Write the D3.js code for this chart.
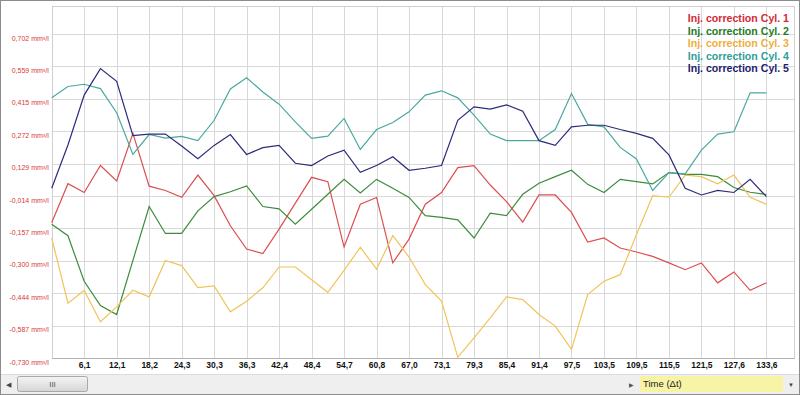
<!DOCTYPE html>
<html>
<head>
<meta charset="utf-8">
<script src="https://cdn.jsdelivr.net/npm/d3@7"></script>
<style>
  body { margin: 0; background: #fff; }
  svg { display: block; }
</style>
</head>
<body>
<svg width="800" height="395"></svg>
<script>
// sample index 0..44, one label every second sample
const xLabels = ["6,1", "12,1", "18,2", "24,3", "30,3", "36,3", "42,4", "48,4", "54,7", "60,8", "67,0",
  "73,1", "79,3", "85,4", "91,4", "97,5", "103,5", "109,5", "115,5", "121,5", "127,6", "133,6"];
const yTicks = [-0.730, -0.587, -0.444, -0.300, -0.157, -0.014, 0.129, 0.272, 0.415, 0.559, 0.702];

const seriesNames = ["Inj. correction Cyl. 1", "Inj. correction Cyl. 2", "Inj. correction Cyl. 3",
  "Inj. correction Cyl. 4", "Inj. correction Cyl. 5"];

const cyl1 = [-0.133, 0.040, 0.001, 0.120, 0.052, 0.262, 0.029, 0.010, -0.020, 0.078, -0.013,
  -0.146, -0.249, -0.269, -0.161, -0.046, 0.068, 0.049, -0.240, -0.051, -0.021, -0.310,
  -0.205, -0.051, 0.001, 0.111, 0.120, 0.034, -0.039, -0.130, -0.010, -0.010, -0.087,
  -0.218, -0.200, -0.244, -0.262, -0.281, -0.310, -0.340, -0.310, -0.398, -0.350, -0.431, -0.398];
const cyl2 = [-0.139, -0.190, -0.391, -0.498, -0.538, -0.299, -0.061, -0.180, -0.180, -0.080, -0.017,
  0.004, 0.030, -0.061, -0.071, -0.139, -0.073, -0.007, 0.059, -0.001, 0.059, 0.020,
  -0.021, -0.101, -0.109, -0.120, -0.200, -0.090, -0.101, -0.007, 0.042, 0.071, 0.099,
  0.037, 0.001, 0.059, 0.049, 0.039, 0.089, 0.081, 0.081, 0.071, 0.023, 0.002, -0.008];
const cyl3 = [-0.200, -0.488, -0.432, -0.570, -0.504, -0.431, -0.460, -0.299, -0.322, -0.419, -0.412,
  -0.526, -0.479, -0.420, -0.328, -0.328, -0.384, -0.440, -0.343, -0.241, -0.337, -0.190,
  -0.284, -0.406, -0.479, -0.727, -0.641, -0.553, -0.460, -0.472, -0.538, -0.589, -0.692,
  -0.450, -0.391, -0.362, -0.186, -0.013, -0.020, 0.078, 0.071, 0.039, 0.078, -0.020, -0.051];
const cyl4 = [0.419, 0.469, 0.479, 0.460, 0.353, 0.169, 0.257, 0.241, 0.249, 0.230, 0.320,
  0.458, 0.508, 0.445, 0.391, 0.313, 0.240, 0.250, 0.328, 0.191, 0.279, 0.310,
  0.357, 0.431, 0.450, 0.419, 0.343, 0.259, 0.230, 0.230, 0.230, 0.279, 0.438,
  0.302, 0.291, 0.200, 0.149, 0.010, 0.089, 0.083, 0.188, 0.259, 0.269, 0.441, 0.441];
const cyl5 = [0.020, 0.211, 0.431, 0.548, 0.492, 0.252, 0.259, 0.259, 0.206, 0.150, 0.209,
  0.257, 0.169, 0.199, 0.209, 0.130, 0.120, 0.162, 0.188, 0.090, 0.120, 0.159,
  0.099, 0.108, 0.120, 0.320, 0.379, 0.369, 0.388, 0.360, 0.230, 0.209, 0.291,
  0.298, 0.298, 0.279, 0.262, 0.240, 0.167, 0.020, -0.010, 0.010, 0.001, 0.059, -0.017];

const lineColors = ["#dc4e50", "#3c8c3c", "#f1c45a", "#4aa8a0", "#2b2b7c"];
const textColors = ["#d42a35", "#257a25", "#f0ae3c", "#2e9e98", "#1d1d6e"];
const allSeries = [cyl1, cyl2, cyl3, cyl4, cyl5];

const plot = { left: 51.7, right: 794, top: 6, bottom: 358 };

const svg = d3.select("svg");

const x = d3.scaleLinear().domain([0, 45.7]).range([plot.left, plot.right]);
const y = d3.scaleLinear().domain([-0.730, 0.8246]).range([plot.bottom, plot.top]);

// frame
svg.append("rect")
  .attr("x", 0.5).attr("y", 0.5).attr("width", 799).attr("height", 394)
  .attr("fill", "#fff").attr("stroke", "#8c8c8c");

// grid
const xTickIdx = xLabels.map((d, i) => (i + 1) * 2);
svg.append("g").selectAll("line").data(xTickIdx.concat([0])).enter().append("line")
  .attr("x1", d => Math.round(x(d)) + 0.5).attr("x2", d => Math.round(x(d)) + 0.5)
  .attr("y1", plot.top).attr("y2", plot.bottom)
  .attr("stroke", "#d9d9d9");
svg.append("g").selectAll("line").data(yTicks).enter().append("line")
  .attr("x1", plot.left).attr("x2", plot.right)
  .attr("y1", d => Math.round(y(d)) + 0.5).attr("y2", d => Math.round(y(d)) + 0.5)
  .attr("stroke", "#d9d9d9");
svg.append("rect")
  .attr("x", Math.round(plot.left) + 0.5).attr("y", plot.top + 0.5)
  .attr("width", Math.round(plot.right - plot.left)).attr("height", plot.bottom - plot.top)
  .attr("fill", "none").attr("stroke", "#d0d0d0");

// axes
const yAxis = svg.append("g")
  .attr("transform", "translate(" + (plot.left - 3) + ",4)")
  .call(d3.axisLeft(y).tickValues(yTicks).tickSize(0).tickPadding(0)
    .tickFormat(d => d3.format(".3f")(d).replace(".", ",").replace("−", "-") + " mm³/l"));
yAxis.select(".domain").remove();
yAxis.selectAll("text")
  .attr("fill", "#d83a3a")
  .attr("font-family", "Arial, 'Liberation Sans'")
  .style("font-size", "7px");

const xAxis = svg.append("g")
  .attr("transform", "translate(0," + plot.bottom + ")")
  .call(d3.axisBottom(x).tickValues(xTickIdx).tickSize(0).tickPadding(4)
    .tickFormat((d, i) => xLabels[i]));
xAxis.select(".domain").attr("stroke", "#b0b0b0");
xAxis.selectAll("text")
  .attr("fill", "#111")
  .attr("font-weight", 700)
  .attr("font-family", "Arial, 'Liberation Sans'")
  .style("font-size", "8.5px");

// lines
const line = d3.line().x((d, i) => x(i)).y(d => y(d));
svg.append("g").selectAll("path").data(allSeries).enter().append("path")
  .attr("d", line)
  .attr("fill", "none")
  .attr("stroke", (d, i) => lineColors[i])
  .attr("stroke-width", 1.2);

// legend
svg.append("g").selectAll("text").data(seriesNames).enter().append("text")
  .attr("x", 789)
  .attr("y", (d, i) => 22 + i * 12.6)
  .attr("text-anchor", "end")
  .attr("font-weight", 700)
  .attr("font-family", "Arial, 'Liberation Sans'")
  .style("font-size", "10.6px")
  .attr("fill", (d, i) => textColors[i])
  .text(d => d);

// scroll bar strip
svg.append("rect")
  .attr("x", 1).attr("y", 374).attr("width", 798).attr("height", 20)
  .attr("fill", "#efefef");
svg.append("line")
  .attr("x1", 1).attr("x2", 799).attr("y1", 374.5).attr("y2", 374.5)
  .attr("stroke", "#dcdcdc");
svg.append("text")
  .attr("x", 8).attr("y", 387).attr("text-anchor", "middle")
  .attr("fill", "#444").style("font-size", "7px").text("◀");
const grad = svg.append("defs").append("linearGradient")
  .attr("id", "thumb").attr("x1", 0).attr("x2", 0).attr("y1", 0).attr("y2", 1);
grad.append("stop").attr("offset", 0).attr("stop-color", "#f4f4f4");
grad.append("stop").attr("offset", 1).attr("stop-color", "#d6d6d6");
svg.append("rect")
  .attr("x", 17.5).attr("y", 376.5).attr("width", 70).attr("height", 15).attr("rx", 2)
  .attr("fill", "url(#thumb)").attr("stroke", "#a8a8a8");
svg.append("text")
  .attr("x", 52.5).attr("y", 387).attr("text-anchor", "middle")
  .attr("fill", "#555").attr("font-family", "Arial").style("font-size", "8px").text("III");

svg.append("text")
  .attr("x", 631).attr("y", 386.5).attr("text-anchor", "middle")
  .attr("fill", "#555").style("font-size", "6px").text("▶");
svg.append("rect")
  .attr("x", 640).attr("y", 376).attr("width", 143).attr("height", 16)
  .attr("fill", "#f8f4a6");
svg.append("text")
  .attr("x", 643).attr("y", 387)
  .attr("fill", "#222").attr("font-family", "Arial, 'Liberation Sans'")
  .style("font-size", "9.5px").text("Time (Δt)");
svg.append("text")
  .attr("x", 791).attr("y", 387).attr("text-anchor", "middle")
  .attr("fill", "#444").style("font-size", "6px").text("▼");
</script>
</body>
</html>
